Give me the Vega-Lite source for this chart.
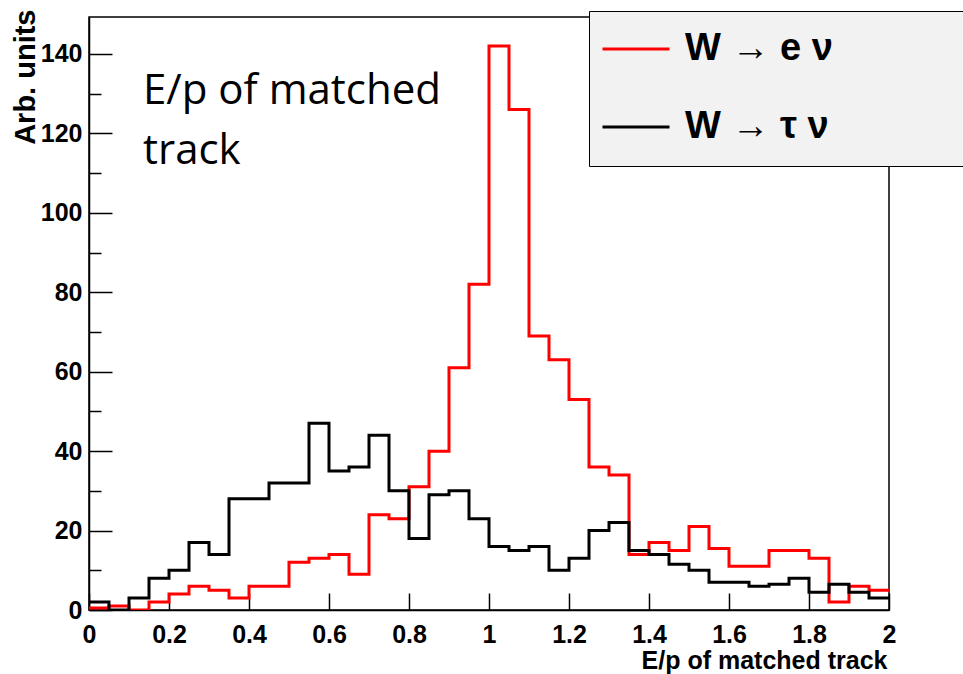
{
  "$schema": "https://vega.github.io/schema/vega-lite/v6.json",
  "autosize": {"type": "none"},
  "width": 800,
  "height": 593,
  "padding": {"left": 89, "top": 17, "right": 74, "bottom": 64},
  "background": "white",
  "config": {
    "view": {"stroke": "#000", "strokeWidth": 1.5},
    "axis": {"grid": false, "domainColor": "#000", "domainWidth": 1.5, "tickColor": "#000", "tickWidth": 1.5, "labelColor": "#000", "titleColor": "#000", "labelFont": "Liberation Sans", "labelFontWeight": "bold", "labelFontSize": 25, "titleFont": "Liberation Sans", "titleFontWeight": "bold", "titleFontSize": 25}
  },
  "datasets": {
    "hist": [
      {"series": "W → e ν", "x": 0.00, "y": 0.5},
      {"series": "W → e ν", "x": 0.05, "y": 1},
      {"series": "W → e ν", "x": 0.10, "y": 0},
      {"series": "W → e ν", "x": 0.15, "y": 2},
      {"series": "W → e ν", "x": 0.20, "y": 4},
      {"series": "W → e ν", "x": 0.25, "y": 6},
      {"series": "W → e ν", "x": 0.30, "y": 5},
      {"series": "W → e ν", "x": 0.35, "y": 3},
      {"series": "W → e ν", "x": 0.40, "y": 6},
      {"series": "W → e ν", "x": 0.45, "y": 6},
      {"series": "W → e ν", "x": 0.50, "y": 12},
      {"series": "W → e ν", "x": 0.55, "y": 13},
      {"series": "W → e ν", "x": 0.60, "y": 14},
      {"series": "W → e ν", "x": 0.65, "y": 9},
      {"series": "W → e ν", "x": 0.70, "y": 24},
      {"series": "W → e ν", "x": 0.75, "y": 23},
      {"series": "W → e ν", "x": 0.80, "y": 31},
      {"series": "W → e ν", "x": 0.85, "y": 40},
      {"series": "W → e ν", "x": 0.90, "y": 61},
      {"series": "W → e ν", "x": 0.95, "y": 82},
      {"series": "W → e ν", "x": 1.00, "y": 142},
      {"series": "W → e ν", "x": 1.05, "y": 126},
      {"series": "W → e ν", "x": 1.10, "y": 69},
      {"series": "W → e ν", "x": 1.15, "y": 63},
      {"series": "W → e ν", "x": 1.20, "y": 53},
      {"series": "W → e ν", "x": 1.25, "y": 36},
      {"series": "W → e ν", "x": 1.30, "y": 34},
      {"series": "W → e ν", "x": 1.35, "y": 14},
      {"series": "W → e ν", "x": 1.40, "y": 17},
      {"series": "W → e ν", "x": 1.45, "y": 15},
      {"series": "W → e ν", "x": 1.50, "y": 21},
      {"series": "W → e ν", "x": 1.55, "y": 15.5},
      {"series": "W → e ν", "x": 1.60, "y": 11},
      {"series": "W → e ν", "x": 1.65, "y": 11},
      {"series": "W → e ν", "x": 1.70, "y": 15},
      {"series": "W → e ν", "x": 1.75, "y": 15},
      {"series": "W → e ν", "x": 1.80, "y": 13},
      {"series": "W → e ν", "x": 1.85, "y": 2},
      {"series": "W → e ν", "x": 1.90, "y": 6},
      {"series": "W → e ν", "x": 1.95, "y": 5},
      {"series": "W → e ν", "x": 2.00, "y": 5},
      {"series": "W → τ ν", "x": 0.00, "y": 2},
      {"series": "W → τ ν", "x": 0.05, "y": 0},
      {"series": "W → τ ν", "x": 0.10, "y": 3},
      {"series": "W → τ ν", "x": 0.15, "y": 8},
      {"series": "W → τ ν", "x": 0.20, "y": 10},
      {"series": "W → τ ν", "x": 0.25, "y": 17},
      {"series": "W → τ ν", "x": 0.30, "y": 14},
      {"series": "W → τ ν", "x": 0.35, "y": 28},
      {"series": "W → τ ν", "x": 0.40, "y": 28},
      {"series": "W → τ ν", "x": 0.45, "y": 32},
      {"series": "W → τ ν", "x": 0.50, "y": 32},
      {"series": "W → τ ν", "x": 0.55, "y": 47},
      {"series": "W → τ ν", "x": 0.60, "y": 35},
      {"series": "W → τ ν", "x": 0.65, "y": 36},
      {"series": "W → τ ν", "x": 0.70, "y": 44},
      {"series": "W → τ ν", "x": 0.75, "y": 30},
      {"series": "W → τ ν", "x": 0.80, "y": 18},
      {"series": "W → τ ν", "x": 0.85, "y": 29},
      {"series": "W → τ ν", "x": 0.90, "y": 30},
      {"series": "W → τ ν", "x": 0.95, "y": 23},
      {"series": "W → τ ν", "x": 1.00, "y": 16},
      {"series": "W → τ ν", "x": 1.05, "y": 15},
      {"series": "W → τ ν", "x": 1.10, "y": 16},
      {"series": "W → τ ν", "x": 1.15, "y": 10},
      {"series": "W → τ ν", "x": 1.20, "y": 13},
      {"series": "W → τ ν", "x": 1.25, "y": 20},
      {"series": "W → τ ν", "x": 1.30, "y": 22},
      {"series": "W → τ ν", "x": 1.35, "y": 15},
      {"series": "W → τ ν", "x": 1.40, "y": 14},
      {"series": "W → τ ν", "x": 1.45, "y": 11.5},
      {"series": "W → τ ν", "x": 1.50, "y": 10},
      {"series": "W → τ ν", "x": 1.55, "y": 7},
      {"series": "W → τ ν", "x": 1.60, "y": 7},
      {"series": "W → τ ν", "x": 1.65, "y": 6},
      {"series": "W → τ ν", "x": 1.70, "y": 6.5},
      {"series": "W → τ ν", "x": 1.75, "y": 8},
      {"series": "W → τ ν", "x": 1.80, "y": 4.5},
      {"series": "W → τ ν", "x": 1.85, "y": 6.5},
      {"series": "W → τ ν", "x": 1.90, "y": 4.5},
      {"series": "W → τ ν", "x": 1.95, "y": 3},
      {"series": "W → τ ν", "x": 2.00, "y": 3}
    ]
  },
  "layer": [
    {
      "data": {"name": "hist"},
      "mark": {"type": "line", "interpolate": "step-after", "strokeWidth": 3, "clip": true},
      "encoding": {
        "x": {
          "field": "x", "type": "quantitative",
          "scale": {"domain": [0, 2], "nice": false, "zero": false},
          "axis": {
            "title": "E/p of matched track",
            "titleAnchor": "end", "titleAlign": "right", "titleBaseline": "middle", "titleY": 50, "titleX": 798,
            "values": [0,0.05,0.1,0.15,0.2,0.25,0.3,0.35,0.4,0.45,0.5,0.55,0.6,0.65,0.7,0.75,0.8,0.85,0.9,0.95,1,1.05,1.1,1.15,1.2,1.25,1.3,1.35,1.4,1.45,1.5,1.55,1.6,1.65,1.7,1.75,1.8,1.85,1.9,1.95,2],
            "labelExpr": "abs(datum.value*5-round(datum.value*5))<0.001 ? format(datum.value,'~g') : ''",
            "tickSize": {"condition": {"test": "abs(datum.value*5-round(datum.value*5))<0.001", "value": -17}, "value": -8},
            "labelPadding": 29,
            "labelBaseline": "top",
            "labelOverlap": false,
            "labelFlush": false
          }
        },
        "y": {
          "field": "y", "type": "quantitative",
          "scale": {"domain": [0, 149.3], "nice": false},
          "axis": {
            "title": "Arb. units",
            "titleAnchor": "end", "titleAngle": -90, "titleAlign": "right", "titleBaseline": "middle", "titleX": -64, "titleY": -8, "titleFontSize": 29,
            "values": [0,5,10,15,20,25,30,35,40,45,50,55,60,65,70,75,80,85,90,95,100,105,110,115,120,125,130,135,140,145],
            "labelExpr": "datum.value % 20 == 0 ? format(datum.value,'d') : ''",
            "tickSize": {"condition": {"test": "datum.value % 20 == 0", "value": -23}, "value": -12},
            "labelPadding": 30,
            "labelOverlap": false,
            "labelFlush": false
          }
        },
        "color": {
          "field": "series", "type": "nominal",
          "scale": {"domain": ["W → e ν", "W → τ ν"], "range": ["#ff0000", "#000000"]},
          "legend": {
            "orient": "none", "legendX": 500, "legendY": -6,
            "title": " ", "titleOrient": "bottom", "titleFontSize": 8, "titlePadding": 9,
            "fillColor": "#f2f2f2", "strokeColor": "#000", "padding": 3,
            "symbolType": "stroke", "symbolSize": 4489, "symbolStrokeWidth": 3, "symbolOffset": 9,
            "labelFont": "Liberation Sans", "labelFontSize": 38, "labelFontWeight": "bold", "labelColor": "#000",
            "labelOffset": 14, "labelLimit": 0, "rowPadding": 24,
            "labelExpr": "datum.label + '\u00a0\u00a0\u00a0\u00a0\u00a0\u00a0\u00a0\u00a0\u00a0\u00a0\u00a0\u00a0\u00a0\u00a0\u00a0\u00a0\u200b'"
          }
        }
      }
    },
    {
      "data": {"values": [{}]},
      "mark": {"type": "text", "text": ["E/p of matched", "track"], "font": "Open Sans", "fontSize": 42, "align": "left", "baseline": "alphabetic", "lineHeight": 60, "color": "#000"},
      "encoding": {
        "x": {"datum": 0.135, "type": "quantitative"},
        "y": {"datum": 127.4, "type": "quantitative"}
      }
    }
  ]
}
